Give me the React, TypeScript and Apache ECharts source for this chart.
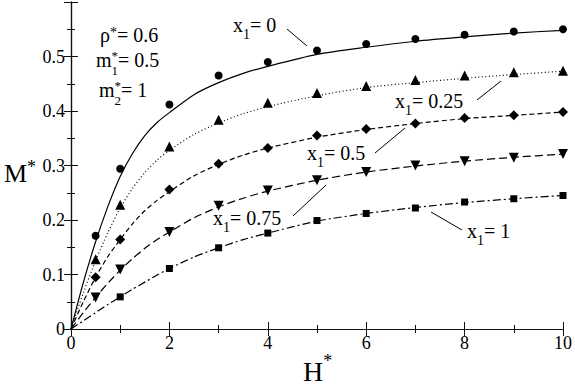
import React, { useEffect, useRef } from 'react';
import * as echarts from 'echarts';

// Symbols (simulation points)
const H_POINTS = [0.5, 1, 2, 3, 4, 5, 6, 7, 8, 9, 10];
const M_X0 = [0.171, 0.294, 0.412, 0.465, 0.49, 0.511, 0.523, 0.532, 0.54, 0.546, 0.55];
const M_X025 = [0.128, 0.228, 0.335, 0.384, 0.415, 0.433, 0.446, 0.457, 0.465, 0.471, 0.474];
const M_X05 = [0.095, 0.164, 0.256, 0.303, 0.332, 0.355, 0.367, 0.377, 0.387, 0.392, 0.398];
const M_X075 = [0.058, 0.109, 0.178, 0.226, 0.254, 0.273, 0.288, 0.3, 0.308, 0.314, 0.321];
const H_SQ = [1, 2, 3, 4, 5, 6, 7, 8, 9, 10];
const M_X1 = [0.059, 0.111, 0.149, 0.176, 0.199, 0.212, 0.222, 0.233, 0.239, 0.245];

// Theory curves
const H_CURVE = [0, 0.25, 0.5, 0.75, 1, 1.25, 1.5, 1.75, 2, 2.5, 3, 3.5, 4, 5, 6, 7, 8, 9, 10];
const CURVE_X0 = [0, 0.085, 0.16, 0.225, 0.28, 0.322, 0.355, 0.379, 0.397, 0.43, 0.452, 0.469, 0.482, 0.504, 0.517, 0.528, 0.536, 0.543, 0.548];
const CURVE_X025 = [0, 0.066, 0.125, 0.177, 0.222, 0.258, 0.287, 0.31, 0.328, 0.357, 0.378, 0.395, 0.408, 0.428, 0.443, 0.452, 0.46, 0.467, 0.473];
const CURVE_X05 = [0, 0.05, 0.095, 0.133, 0.164, 0.193, 0.217, 0.236, 0.252, 0.281, 0.302, 0.319, 0.332, 0.352, 0.366, 0.377, 0.386, 0.392, 0.398];
const CURVE_X075 = [0, 0.03, 0.058, 0.084, 0.108, 0.129, 0.148, 0.164, 0.178, 0.204, 0.224, 0.24, 0.253, 0.273, 0.288, 0.299, 0.308, 0.315, 0.321];
const CURVE_X1 = [0, 0.015, 0.03, 0.045, 0.059, 0.073, 0.086, 0.099, 0.111, 0.132, 0.149, 0.164, 0.176, 0.198, 0.212, 0.223, 0.232, 0.239, 0.245];

const FONT = 'Liberation Serif';

let measureCtx: CanvasRenderingContext2D | null = null;
function measure(text: string, size: number): number {
  if (!measureCtx) measureCtx = document.createElement('canvas').getContext('2d');
  if (!measureCtx) return text.length * size * 0.5;
  measureCtx.font = `${size}px ${FONT}`;
  return measureCtx.measureText(text).width;
}

type Part = { t: string; size: number; dy: number; stack?: boolean };
function label(x0: number, base: number, parts: Part[]): any[] {
  let cx = x0;
  const out: any[] = [];
  for (const p of parts) {
    out.push({
      type: 'text',
      x: cx,
      y: base + p.dy - 0.34 * p.size,
      z: 10,
      style: {
        text: p.t,
        fontSize: p.size,
        fontFamily: FONT,
        fill: '#000',
        align: 'left',
        verticalAlign: 'middle',
      },
    });
    if (!p.stack) cx += measure(p.t, p.size);
  }
  return out;
}

function xLabel(x0: number, base: number, val: string): any[] {
  return label(x0, base, [
    { t: 'x', size: 20, dy: 0 },
    { t: '1', size: 14, dy: 7 },
    { t: '= ' + val, size: 20, dy: 0 },
  ]);
}

function pointer(x1: number, y1: number, x2: number, y2: number) {
  return { type: 'line', z: 10, shape: { x1, y1, x2, y2 }, style: { stroke: '#000', lineWidth: 1 } };
}

function pairs(xs: number[], ys: number[]) {
  return xs.map((x, i) => [x, ys[i]]);
}

export default function App() {
  const ref = useRef<HTMLDivElement>(null);
  useEffect(() => {
    if (!ref.current) return;
    const chart = echarts.init(ref.current, undefined, { renderer: 'svg' });

    const axisCommon = {
      axisLine: { show: true, lineStyle: { color: '#111', width: 1.2 } },
      axisTick: { show: true, inside: true, length: 7, lineStyle: { color: '#111', width: 1 } },
      minorTick: { show: true, splitNumber: 2, length: 4, lineStyle: { color: '#111', width: 1 } },
      splitLine: { show: false },
      minorSplitLine: { show: false },
    };

    const lineSeries = (data: number[], type: any) => ({
      type: 'line',
      data: pairs(H_CURVE, data),
      showSymbol: false,
      smooth: 0.25,
      lineStyle: { color: '#000', width: 1.2, type },
      z: 2,
      silent: true,
    });
    const scatter = (xs: number[], ys: number[], symbol: string, size: number, rotate = 0) => ({
      type: 'scatter',
      data: pairs(xs, ys),
      symbol,
      symbolSize: size,
      symbolRotate: rotate,
      itemStyle: { color: '#000', opacity: 1 },
      z: 3,
    });

    const graphic: any[] = [
      ...label(100, 42, [
        { t: 'ρ', size: 20, dy: 0 },
        { t: '*', size: 14, dy: -5 },
        { t: '= 0.6', size: 20, dy: 0 },
      ]),
      ...label(96, 67, [
        { t: 'm', size: 20, dy: 0 },
        { t: '*', size: 13, dy: -7, stack: true },
        { t: '1', size: 13, dy: 7.5 },
        { t: '= 0.5', size: 20, dy: 0 },
      ]),
      ...label(99, 97, [
        { t: 'm', size: 20, dy: 0 },
        { t: '*', size: 13, dy: -7, stack: true },
        { t: '2', size: 13, dy: 7.5 },
        { t: '= 1', size: 20, dy: 0 },
      ]),
      ...xLabel(233, 32, '0'),
      ...xLabel(395, 108, '0.25'),
      ...xLabel(307, 160, '0.5'),
      ...xLabel(213, 225, '0.75'),
      ...xLabel(467, 238, '1'),
      pointer(287, 29, 307, 46),
      pointer(477, 100, 501, 81),
      pointer(375, 153, 405, 128),
      pointer(293, 216, 326, 185),
      pointer(462, 230, 431, 212),
      ...label(4, 182, [
        { t: 'M', size: 26, dy: 0 },
        { t: '*', size: 18, dy: -9 },
      ]),
      ...label(303, 381, [
        { t: 'H', size: 28, dy: 0 },
        { t: '*', size: 18, dy: -14 },
      ]),
    ];

    chart.setOption({
      animation: false,
      backgroundColor: '#fff',
      grid: { left: 71, right: 11, top: 2, bottom: 58, containLabel: false },
      xAxis: [
        {
          type: 'value', position: 'bottom', min: 0, max: 10, interval: 2,
          ...axisCommon,
          axisLabel: { show: true, fontFamily: FONT, fontSize: 18, color: '#000', margin: 5 },
        },
        {
          type: 'value', position: 'top', min: 0, max: 10, interval: 2,
          ...axisCommon,
          axisLabel: { show: false },
        },
      ],
      yAxis: [
        {
          type: 'value', position: 'left', min: 0, max: 0.6, interval: 0.1,
          ...axisCommon,
          axisLabel: {
            show: true, fontFamily: FONT, fontSize: 18, color: '#000', margin: 6,
            formatter: (v: number) => (v > 0.55 ? '' : String(Number(v.toFixed(1)))),
          },
        },
        {
          type: 'value', position: 'right', min: 0, max: 0.6, interval: 0.1,
          ...axisCommon,
          axisLabel: { show: false },
        },
      ],
      series: [
        lineSeries(CURVE_X0, 'solid'),
        lineSeries(CURVE_X025, [1, 2.5]),
        lineSeries(CURVE_X05, [5, 3]),
        lineSeries(CURVE_X075, [8, 4]),
        lineSeries(CURVE_X1, [8, 3, 2, 3]),
        scatter(H_POINTS, M_X0, 'circle', 8),
        scatter(H_POINTS, M_X025, 'triangle', 10),
        scatter(H_POINTS, M_X05, 'diamond', 10),
        scatter(H_POINTS, M_X075, 'triangle', 10, 180),
        scatter(H_SQ, M_X1, 'rect', 7),
      ],
      graphic,
    });

    return () => chart.dispose();
  }, []);

  return (
    <div
      ref={ref}
      style={{ position: 'fixed', left: 0, top: 0, width: 575, height: 387, background: '#fff' }}
    />
  );
}
